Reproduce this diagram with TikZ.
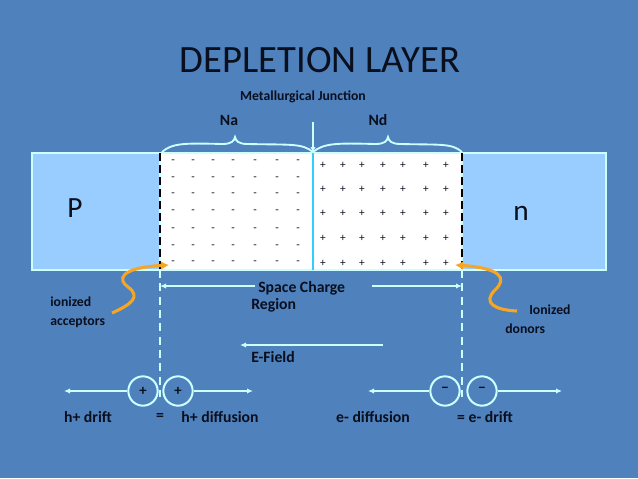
\documentclass[tikz,border=0pt]{standalone}
\usepackage{fontspec}
\setmainfont{Carlito}
\usetikzlibrary{arrows.meta}
\definecolor{bg}{HTML}{4F81BD}
\definecolor{lb}{HTML}{99CCFF}
\definecolor{edge}{HTML}{CCFFFF}
\definecolor{junc}{HTML}{33CCFF}
\definecolor{ink}{HTML}{0A0F1E}
\definecolor{orng}{HTML}{F6A623}
\begin{document}
\begin{tikzpicture}[x=0.75pt,y=-0.75pt,
  lbl/.style={text=ink,font=\bfseries\fontsize{11.8}{13}\selectfont,inner sep=0pt},
  smalllbl/.style={text=ink,font=\bfseries\fontsize{10.3}{11}\selectfont,inner sep=0pt},
  region/.style={draw=edge,line width=1.6pt,inner sep=0pt},
  wline/.style={draw=edge,line width=1.2pt},
  warrow/.style={wline,-{Latex[length=4.5pt,width=4pt]}},
  oarrow/.style={draw=orng,line width=2.3pt,-{Latex[length=6pt,width=6.5pt]}},
  carrier/.style={circle,draw=edge,line width=1.5pt,minimum size=22pt,inner sep=0pt,text=ink,font=\bfseries\fontsize{11}{12}\selectfont},
  chg/.style={text=ink,inner sep=0pt,font=\fontsize{8.5}{8.5}\selectfont}]
\useasboundingbox (0,0) rectangle (638,478);
\fill[bg] (0,0) rectangle (638,478);
% regions
\path[region,fill=lb] (32,153) rectangle (160,270);
\path[region,fill=white] (160,153) rectangle (462,270);
\path[region,fill=lb] (462,153) rectangle (606,270);
\node[font=\fontsize{22}{24}\selectfont,text=ink] (P) at (75,208) {P};
\node[font=\fontsize{22}{24}\selectfont,text=ink] (n) at (521,213) {n};
% charges
\foreach \x in {173,193,213,233,255,277,298}
  \foreach \y in {162,179,195,212,230,247,263}
    \node[chg] at (\x,\y) {-};
\foreach \x in {323,343,362,383,403,426,446}
  \foreach \y in {165,189,213,238,263}
    \node[chg] at (\x,\y) {+};
% edges
\coordinate (jt) at (313,153); \coordinate (jb) at (313,270);
\draw[junc,line width=2.2pt] (jt) -- (jb);
\coordinate (lt) at (160,153); \coordinate (lb) at (160,270);
\coordinate (rt) at (462,153); \coordinate (rbot) at (462,270);
\draw[black,line width=2pt,dash pattern=on 6pt off 3pt] (lt) -- (lb);
\draw[black,line width=2pt,dash pattern=on 6pt off 3pt] (rt) -- (rbot);
\coordinate (ld) at (160,397); \coordinate (rd) at (462,397);
\draw[edge,line width=1.2pt,dash pattern=on 6pt off 4pt] (lb) -- (ld);
\draw[edge,line width=1.2pt,dash pattern=on 6pt off 4pt] (rbot) -- (rd);
% title and top labels
\node[text=ink,font=\fontsize{29}{32}\selectfont] (title) at (320,60) {DEPLETION LAYER};
\node[smalllbl] (mj) at (303,97) {Metallurgical Junction};
\node[lbl] (na) at (229,120) {Na};
\node[lbl] (nd) at (378,120) {Nd};
\coordinate (mjs) at (313,122);
\draw[warrow] (mjs) -- (jt);
% braces
\draw[wline,line width=1.4pt] (162,152) .. controls (172,143) and (185,143) .. (222,144)
  .. controls (232,144) and (234,141) .. (235,137)
  .. controls (236,141) and (238,144) .. (248,144)
  .. controls (290,145) and (302,143) .. (313,152);
\draw[wline,line width=1.4pt] (313,152) .. controls (324,143) and (337,143) .. (375,144)
  .. controls (385,144) and (387,141) .. (388,137)
  .. controls (389,141) and (391,144) .. (401,144)
  .. controls (440,145) and (452,143) .. (462,152);
% space charge region
\node[lbl,anchor=west] (scr1) at (258,288) {Space Charge};
\node[lbl,anchor=west] (scr2) at (251,305) {Region};
\coordinate (scl) at (160,286); \coordinate (scr) at (462,286);
\coordinate (scla) at (255,286); \coordinate (scra) at (372,286);
\draw[warrow] (scla) -- (scl);
\draw[warrow] (scra) -- (scr);
% E-field
\coordinate (ef1) at (383,345); \coordinate (ef2) at (240,345);
\draw[warrow] (ef1) -- (ef2);
\node[lbl,anchor=west] (ef) at (251,357) {E-Field};
% ionized labels and orange arrows
\node[smalllbl,anchor=west,align=left] (acc) at (50,312) {ionized\\[3pt]acceptors};
\node[smalllbl,anchor=west,align=left] (don) at (505,319) {\hspace*{18pt}Ionized\\[3pt]donors};
\draw[oarrow] (112,313) .. controls (130,305) and (142,297) .. (128,287)
  .. controls (118,280) and (118,268) .. (169,265);
\draw[oarrow] (517,311) .. controls (495,310) and (482,303) .. (495,290)
  .. controls (508,278) and (500,268) .. (455,265);
% carriers
\node[carrier] (h1) at (143,391) {+};
\node[carrier] (h2) at (178,391) {+};
\node[carrier] (e1) at (445,391) {\raisebox{2pt}{\textminus}};
\node[carrier] (e2) at (482,391) {\raisebox{2pt}{\textminus}};
\coordinate (hl) at (64,391); \coordinate (hr) at (253,391);
\coordinate (el) at (368,391); \coordinate (er) at (562,391);
\draw[warrow] (h1) -- (hl);
\draw[warrow] (h2) -- (hr);
\draw[warrow] (e1) -- (el);
\draw[warrow] (e2) -- (er);
% bottom labels
\node[lbl] (hd) at (88,417) {h+ drift};
\node[lbl] (eq1) at (160,417) {=};
\node[lbl] (hdf) at (220,417) {h+ diffusion};
\node[lbl] (edf) at (373,417) {e- diffusion};
\node[lbl] (ed) at (485,417) {= e- drift};
\end{tikzpicture}
\end{document}
